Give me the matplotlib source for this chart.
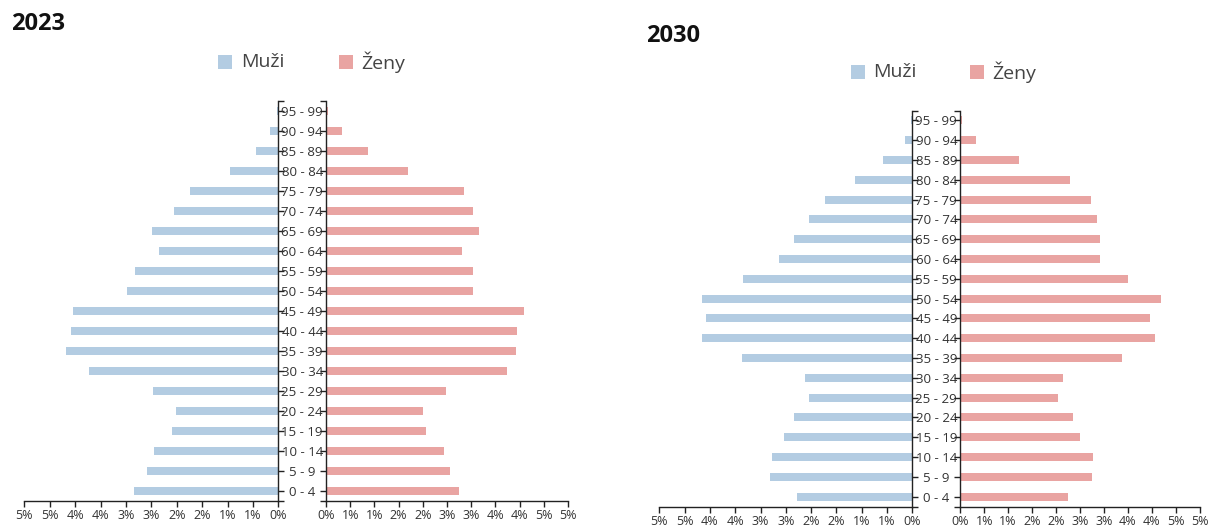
import matplotlib
matplotlib.use("Agg")
import matplotlib.pyplot as plt
from matplotlib.patches import Rectangle

plt.rcParams['font.family'] = ['Open Sans', 'DejaVu Sans']

# ---------------- data ----------------
age_groups = ["0 - 4", "5 - 9", "10 - 14", "15 - 19", "20 - 24", "25 - 29",
              "30 - 34", "35 - 39", "40 - 44", "45 - 49", "50 - 54", "55 - 59",
              "60 - 64", "65 - 69", "70 - 74", "75 - 79", "80 - 84", "85 - 89",
              "90 - 94", "95 - 99"]

men_2023 = [2.84, 2.59, 2.44, 2.09, 2.02, 2.46, 3.72, 4.18, 4.08, 4.05,
            2.98, 2.82, 2.35, 2.49, 2.06, 1.73, 0.95, 0.43, 0.16, 0.02]
women_2023 = [2.75, 2.57, 2.43, 2.06, 2.00, 2.48, 3.73, 3.93, 3.95, 4.10,
              3.04, 3.03, 2.80, 3.16, 3.03, 2.85, 1.69, 0.86, 0.33, 0.04]

men_2030 = [2.27, 2.81, 2.77, 2.53, 2.34, 2.04, 2.12, 3.37, 4.15, 4.08,
            4.15, 3.35, 2.63, 2.33, 2.04, 1.72, 1.13, 0.57, 0.15, 0.02]
women_2030 = [2.25, 2.76, 2.77, 2.50, 2.36, 2.05, 2.14, 3.39, 4.06, 3.96,
              4.19, 3.50, 2.92, 2.91, 2.85, 2.74, 2.29, 1.22, 0.32, 0.04]

x_ticks = [0, 0.5, 1, 1.5, 2, 2.5, 3, 3.5, 4, 4.5, 5]
x_tick_labels = ["0%", "1%", "1%", "2%", "2%", "3%", "3%", "4%", "4%", "5%", "5%"]

titles = ["2023", "2030"]
legend_labels = ["Muži", "Ženy"]

MEN_COLOR = "#b3cce2"
WOMEN_COLOR = "#e9a4a2"
AXIS_COLOR = "#222222"
TEXT_COLOR = "#333333"

# ---------------- layout (pixels) ----------------
W, H, DPI = 1209, 526, 100
fig = plt.figure(figsize=(W / DPI, H / DPI), dpi=DPI)
fig.patch.set_facecolor("white")

PX2PT = 72.0 / DPI


def box(x0, x1, ytop, ybot):
    return [x0 / W, 1 - ybot / H, (x1 - x0) / W, (ybot - ytop) / H]


panels = [
    dict(title=titles[0], men=men_2023, women=women_2023,
         mx=(24.3, 278.3), wx=(326.0, 568.0), y=(101.0, 500.7),
         title_xy=(11, 24), leg_y=62, leg_x=(218, 241, 339, 361)),
    dict(title=titles[1], men=men_2030, women=women_2030,
         mx=(659.3, 912.3), wx=(960.3, 1199.5), y=(110.5, 506.5),
         title_xy=(646, 36), leg_y=72, leg_x=(851, 873, 970, 992)),
]

TICK_LEN = 4.0
BAR_H = 0.4
n = len(age_groups)
ypos = list(range(n))

for p in panels:
    ytop, ybot = p["y"]
    gap_px = p["wx"][0] - p["mx"][1]

    # men (left)
    axm = fig.add_axes(box(p["mx"][0], p["mx"][1], ytop, ybot))
    axm.barh(ypos, p["men"], height=BAR_H, color=MEN_COLOR, zorder=1)
    axm.set_xlim(5, 0)
    axm.set_ylim(-0.5, n - 0.5)
    # women (right)
    axw = fig.add_axes(box(p["wx"][0], p["wx"][1], ytop, ybot))
    axw.barh(ypos, p["women"], height=BAR_H, color=WOMEN_COLOR, zorder=1)
    axw.set_xlim(0, 5)
    axw.set_ylim(-0.5, n - 0.5)

    for ax, side in ((axm, "right"), (axw, "left")):
        ax.set_facecolor("none")
        for s in ("top", "left", "right", "bottom"):
            ax.spines[s].set_visible(False)
        ax.spines["bottom"].set_visible(True)
        ax.spines[side].set_visible(True)
        for s in ("bottom", side):
            ax.spines[s].set_color(AXIS_COLOR)
            ax.spines[s].set_linewidth(1.0)
        ax.set_xticks(x_ticks)
        ax.set_xticklabels(x_tick_labels)
        ax.tick_params(axis="x", direction="out", length=TICK_LEN, width=1,
                       color=AXIS_COLOR, labelsize=9, labelcolor=TEXT_COLOR, pad=2)
        ax.set_yticks(ypos)
        ax.set_yticks([-0.5, n - 0.5], minor=True)
        ax.tick_params(axis="y", which="both", direction="out", length=TICK_LEN,
                       width=1, color=AXIS_COLOR,
                       left=(side == "left"), right=(side == "right"),
                       labelleft=False, labelright=False)
        ax.tick_params(axis="y", which="minor", labelright=False, labelleft=False)

    # age labels centred in the gap, attached to the men axis
    axm.tick_params(axis="y", which="major", labelright=True,
                    pad=gap_px / 2 * PX2PT - TICK_LEN, labelsize=9.5,
                    labelcolor=TEXT_COLOR)
    axm.set_yticklabels(age_groups)
    for lab in axm.get_yticklabels():
        lab.set_horizontalalignment("center")

    # title
    tx, ty = p["title_xy"]
    fig.text(tx / W, 1 - ty / H, p["title"], fontsize=17, fontweight="bold",
             color="#111111", ha="left", va="center")

    # legend
    sq = 14
    lx = p["leg_x"]
    ly = p["leg_y"]
    for (sx, txx), col, lab in zip(((lx[0], lx[1]), (lx[2], lx[3])),
                                    (MEN_COLOR, WOMEN_COLOR), legend_labels):
        fig.patches.append(Rectangle((sx / W, 1 - (ly + sq / 2) / H), sq / W, sq / H,
                                     transform=fig.transFigure, facecolor=col,
                                     edgecolor="none"))
        fig.text(txx / W, 1 - ly / H, lab, fontsize=14, color="#444444",
                 ha="left", va="center")

fig.savefig("out.png", dpi=DPI, facecolor="white")
